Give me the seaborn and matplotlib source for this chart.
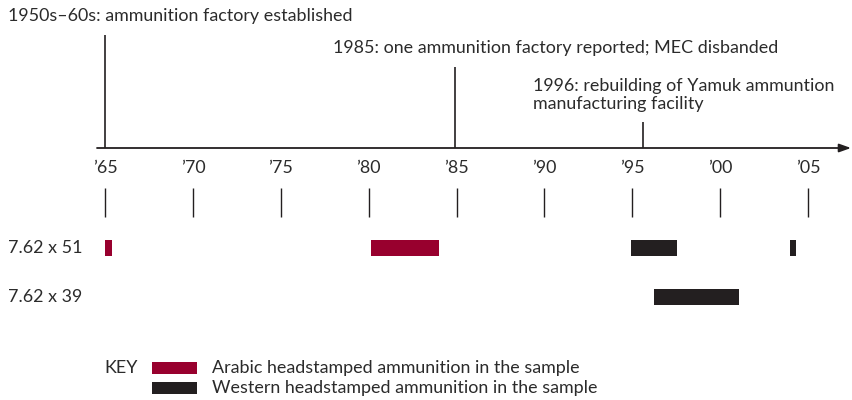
import matplotlib.pyplot as plt
from matplotlib.patches import Rectangle
import seaborn as sns

# Timeline data (years)
tick_years = [1965, 1970, 1975, 1980, 1985, 1990, 1995, 2000, 2005]
tick_labels = ["\u201965", "\u201970", "\u201975", "\u201980", "\u201985", "\u201990", "\u201995", "\u201900", "\u201905"]

event_years = [1965.0, 1984.9, 1995.6]
event_labels = ["1950s\u201360s: ammunition factory established",
                "1985: one ammunition factory reported; MEC disbanded",
                "1996: rebuilding of Yamuk ammuntion\nmanufacturing facility"]

calibres = ["7.62 x 51", "7.62 x 39"]
bar_calibre = ["7.62 x 51", "7.62 x 51", "7.62 x 51", "7.62 x 51", "7.62 x 39"]
bar_start = [1965.0, 1980.13, 1994.93, 2003.95, 1996.24]
bar_end = [1965.38, 1983.99, 1997.55, 2004.33, 2001.06]
bar_kind = ["Arabic", "Arabic", "Western", "Western", "Western"]

key_labels = {"Arabic": "Arabic headstamped ammunition in the sample",
              "Western": "Western headstamped ammunition in the sample"}

sns.set_style("white")
plt.rcParams["font.family"] = ["Lato", "DejaVu Sans"]

RED = "#98002E"
BLACK = "#231F20"
TXT = "#2b2b2b"
FS = 12.9
colors = {"Arabic": RED, "Western": BLACK}

W, H = 852, 400
fig = plt.figure(figsize=(W / 100, H / 100), dpi=100)
ax = fig.add_axes([0, 0, 1, 1])
# x in years, y in pixel rows (top = 0)
px_per_year = 17.575
x0 = 1965 - 105 / px_per_year
ax.set_xlim(x0, x0 + W / px_per_year)
ax.set_ylim(H, 0)
ax.axis("off")

def px(x):
    return x0 + x / px_per_year

# main axis with arrow
ax.annotate("", xy=(px(851), 148), xytext=(px(97), 148),
            arrowprops=dict(arrowstyle="-|>,head_length=0.7,head_width=0.25",
                            color=BLACK, lw=1.3, shrinkA=0, shrinkB=0))

# event markers
event_tops = [35, 67, 122]
for yr, top in zip(event_years, event_tops):
    ax.vlines(yr, top, 148, color=BLACK, lw=1.2)

ax.text(px(8), 16, event_labels[0], fontsize=FS, color=TXT, va="center", ha="left")
ax.text(px(333), 48, event_labels[1], fontsize=FS, color=TXT, va="center", ha="left")
ax.text(px(533), 95, event_labels[2], fontsize=FS, color=TXT, va="center", ha="left",
        linespacing=1.2)

# year ticks
ax.vlines(tick_years, 188, 217, color=BLACK, lw=1.0)
for yr, lab in zip(tick_years, tick_labels):
    ax.text(yr, 168, lab, fontsize=FS, color=TXT, ha="center", va="center")

# calibre rows
row_y = {"7.62 x 51": 248, "7.62 x 39": 297}
for c in calibres:
    ax.text(px(8), row_y[c], c, fontsize=FS, color=TXT, va="center", ha="left")

for c, s, e, k in zip(bar_calibre, bar_start, bar_end, bar_kind):
    ax.barh(row_y[c], e - s, left=s, height=16, color=colors[k], linewidth=0)

# key
ax.text(px(104), 368, "KEY", fontsize=FS, color=TXT, va="center", ha="left")
for i, k in enumerate(["Arabic", "Western"]):
    yc = 368 + 20 * i
    ax.add_patch(Rectangle((px(152), yc - 6), 45 / px_per_year, 12,
                           color=colors[k], linewidth=0))
    ax.text(px(212), yc, key_labels[k], fontsize=FS, color=TXT, va="center", ha="left")

fig.savefig("out.png", dpi=100, facecolor="white")
